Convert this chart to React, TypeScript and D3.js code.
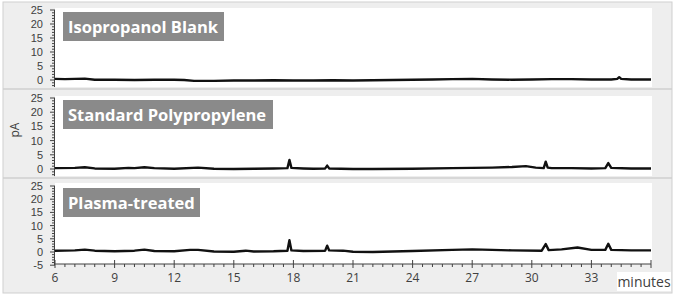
import * as d3 from "d3";

// retention time (minutes) / signal (pA)
const blankTime = [6, 6.5, 7, 7.5, 8, 9, 10, 11, 12, 12.5, 13, 14, 15, 16, 17, 18, 19, 20, 21, 22, 23, 24, 25, 26, 27, 28, 29, 30, 31, 32, 33, 34, 34.3, 34.4, 34.5, 35, 36];
const blankValue = [0.4, 0.3, 0.4, 0.5, 0.1, 0.1, 0.0, 0.1, 0.1, 0.0, -0.3, -0.3, -0.2, -0.2, -0.1, -0.2, -0.2, -0.1, -0.2, -0.1, 0.0, 0.1, 0.2, 0.3, 0.4, 0.2, 0.1, 0.2, 0.3, 0.3, 0.2, 0.2, 0.4, 1.0, 0.4, 0.2, 0.2];

const standardTime = [6, 7, 7.5, 8, 9, 9.7, 10, 10.5, 11, 12, 13.2, 14, 15, 16, 17, 17.7, 17.8, 17.9, 18.5, 19, 19.6, 19.7, 19.8, 21, 22, 24, 26, 28, 29, 29.7, 30.2, 30.6, 30.7, 30.8, 31, 32, 33, 33.7, 33.85, 34, 35, 36];
const standardValue = [0.3, 0.4, 0.6, 0.2, 0.1, 0.4, 0.3, 0.6, 0.3, 0.1, 0.5, 0.1, 0.0, 0.1, 0.2, 0.3, 3.2, 0.4, 0.2, 0.1, 0.2, 1.2, 0.2, 0.0, 0.0, 0.1, 0.3, 0.5, 0.7, 1.0, 0.5, 0.3, 2.6, 0.5, 0.3, 0.3, 0.2, 0.3, 2.1, 0.4, 0.2, 0.2];

const plasmaTime = [6, 7, 7.5, 8, 9, 10, 10.5, 11, 12, 12.8, 13.2, 14, 15, 15.6, 16, 17, 17.7, 17.8, 17.9, 18.5, 19.6, 19.7, 19.8, 20.5, 21, 22, 24, 26, 27, 28, 29, 30.5, 30.7, 30.85, 31.5, 32.3, 33, 33.7, 33.85, 34, 35, 36];
const plasmaValue = [0.5, 0.6, 0.9, 0.5, 0.3, 0.5, 0.9, 0.4, 0.3, 0.8, 0.8, 0.2, 0.1, 0.5, 0.2, 0.3, 0.5, 4.5, 0.6, 0.4, 0.5, 2.4, 0.6, 0.5, 0.1, 0.0, 0.4, 0.8, 1.0, 0.8, 0.6, 0.5, 3.0, 0.7, 1.0, 1.7, 0.8, 0.8, 3.1, 0.8, 0.6, 0.6];

const panelNames = ["Isopropanol Blank", "Standard Polypropylene", "Plasma-treated"];
const yTickLabels = [-5, 0, 5, 10, 15, 20, 25];
const xTickLabels = [6, 9, 12, 15, 18, 21, 24, 27, 30, 33, 36];

const series = [
  { time: blankTime, value: blankValue },
  { time: standardTime, value: standardValue },
  { time: plasmaTime, value: plasmaValue },
];

const W = 675;
const H = 297;
const font = "'Open Sans', 'Liberation Sans', sans-serif";
const tickFont = "'Liberation Sans', Arial, sans-serif";

// layout of each panel: pixel row of 25 and 0, lowest visible value, white area
const panels = [
  { y25: 10, y0: 80, min: -2.5, whiteTop: 8, whiteBottom: 87, boxW: 161 },
  { y25: 98, y0: 169, min: -2.5, whiteTop: 96, whiteBottom: 176, boxW: 210 },
  { y25: 186, y0: 252, min: -5, whiteTop: 183, whiteBottom: 264, boxW: 137 },
];

const x = d3.scaleLinear().domain([6, 36]).range([55, 651]);

export default function App() {
  const xMinor = d3.range(6, 36.01, 0.5);
  const axisY = 264;
  return (
    <svg width={W} height={H} style={{ display: "block", position: "absolute", left: 0, top: 0 }}>
      <rect x={0} y={0} width={W} height={H} fill="#ffffff" />
      <rect x={3} y={2} width={669} height={291} fill="#eeeeee" stroke="#cfcfcf" />
      <line x1={3} x2={672} y1={89} y2={89} stroke="#cfcfcf" strokeWidth={1.5} />
      <line x1={3} x2={672} y1={178} y2={178} stroke="#cfcfcf" strokeWidth={1.5} />

      {panels.map((p, i) => {
        const y = d3.scaleLinear().domain([0, 25]).range([p.y0, p.y25]);
        const line = d3
          .line<number>()
          .x((_, k) => x(series[i].time[k]))
          .y((v) => y(v));
        const minor = d3.range(Math.ceil(p.min), 25.01, 1);
        const bottom = y(p.min);
        return (
          <g key={i}>
            <rect x={55} y={p.whiteTop} width={597} height={p.whiteBottom - p.whiteTop} fill="#ffffff" />
            <line x1={54.5} x2={54.5} y1={p.y25} y2={bottom} stroke="#404040" />
            {minor.map((v) => (
              <line key={v} x1={v % 5 === 0 ? 50 : 52} x2={55} y1={y(v)} y2={y(v)} stroke="#404040" />
            ))}
            {yTickLabels
              .filter((v) => v >= p.min)
              .map((v) => (
                <text key={v} x={43} y={y(v)} dy="0.36em" textAnchor="end" fontFamily={tickFont} fontSize={11} fill="#404040">
                  {v}
                </text>
              ))}
            <path d={line(series[i].value) || ""} fill="none" stroke="#111111" strokeWidth={2.4} strokeLinejoin="round" />
            <rect x={63} y={p.y25 + 2} width={p.boxW} height={29} fill="#8a8a8a" />
            <text x={68} y={p.y25 + 23} fontFamily={font} fontWeight="bold" fontSize={16.5} fill="#ffffff">
              {panelNames[i]}
            </text>
          </g>
        );
      })}

      <text transform="translate(19,130) rotate(-90)" textAnchor="middle" fontFamily={font} fontSize={12} fill="#404040">
        pA
      </text>

      <line x1={55} x2={651} y1={axisY} y2={axisY} stroke="#404040" />
      {xMinor.map((t) => (
        <line key={t} x1={x(t)} x2={x(t)} y1={t % 3 === 0 ? axisY - 4 : axisY} y2={t % 3 === 0 ? axisY + 4 : axisY + 3} stroke="#404040" />
      ))}
      {xTickLabels
        .filter((t) => t < 36)
        .map((t) => (
          <text key={t} x={x(t)} y={282} textAnchor="middle" fontFamily={font} fontSize={12} fill="#404040">
            {t}
          </text>
        ))}

      <rect x={617} y={272} width={54} height={19} fill="#ffffff" />
      <text x={644} y={287} textAnchor="middle" fontFamily={font} fontSize={14} fill="#404040">
        minutes
      </text>
    </svg>
  );
}
